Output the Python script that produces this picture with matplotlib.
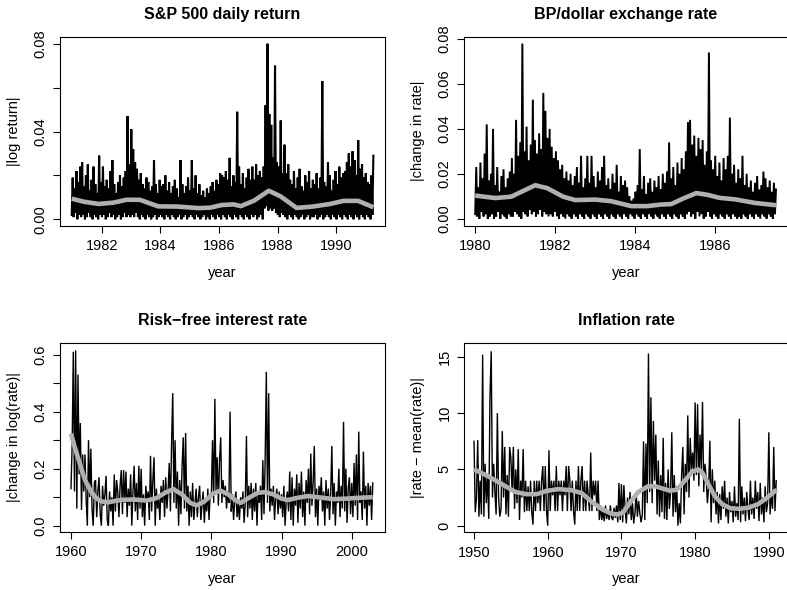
import matplotlib
matplotlib.use("Agg")
import matplotlib.pyplot as plt
import numpy as np

plt.rcParams['font.family'] = ['Liberation Sans', 'DejaVu Sans']
plt.rcParams['axes.unicode_minus'] = True

# S&P 500 |log return| in thousandths, evenly spaced in time
sp_start, sp_end = 1980.98, 1991.27
sp_abs_ret_milli = [
    2, 19, 1, 14, 3, 22, 0, 17, 2, 24, 1, 26, 2, 15, 0, 20, 1, 25, 3, 13, 1, 18, 0, 24, 2, 16, 1, 12, 0, 29, 2, 17,
    1, 24, 2, 15, 0, 18, 1, 14, 3, 22, 1, 27, 2, 16, 0, 12, 1, 17, 2, 20, 0, 15, 1, 19, 3, 22, 1, 47, 2, 25, 1, 41,
    2, 32, 1, 26, 3, 23, 1, 18, 0, 21, 2, 16, 1, 14, 0, 19, 2, 17, 1, 13, 0, 15, 1, 27, 2, 16, 0, 12, 1, 18, 2, 15,
    1, 16, 0, 20, 2, 13, 1, 17, 0, 12, 2, 15, 1, 18, 0, 14, 1, 10, 2, 27, 0, 16, 1, 12, 2, 15, 0, 19, 1, 13, 2, 27,
    1, 14, 0, 20, 2, 12, 1, 16, 0, 11, 1, 13, 2, 10, 0, 14, 1, 12, 0, 15, 2, 17, 1, 13, 0, 18, 2, 16, 1, 21, 0, 20,
    2, 19, 1, 22, 0, 18, 2, 28, 1, 15, 0, 20, 2, 17, 1, 49, 0, 24, 2, 16, 1, 21, 0, 14, 2, 19, 1, 23, 0, 18, 2, 24,
    1, 18, 2, 25, 0, 20, 1, 22, 2, 19, 0, 24, 5, 52, 6, 80, 4, 48, 5, 43, 4, 28, 5, 70, 3, 26, 2, 24, 1, 45, 3, 21,
    2, 34, 1, 21, 0, 25, 2, 18, 1, 16, 0, 22, 2, 14, 1, 19, 0, 23, 1, 15, 2, 13, 0, 20, 1, 17, 2, 22, 0, 14, 1, 18,
    1, 16, 2, 21, 0, 14, 1, 19, 2, 63, 0, 17, 1, 15, 2, 26, 1, 20, 0, 13, 2, 18, 1, 22, 0, 16, 2, 24, 1, 19, 0, 21,
    2, 22, 1, 26, 0, 30, 2, 24, 1, 31, 0, 27, 2, 20, 1, 36, 0, 23, 2, 25, 1, 19, 0, 21, 2, 17, 1, 16, 0, 20, 2, 29,
]
sp_smooth_year = [1980.98, 1981.4, 1981.9, 1982.4, 1982.85, 1983.3, 1983.93, 1984.6, 1985.3, 1985.7, 1986.1,
                  1986.5, 1986.75, 1987.2, 1987.7, 1988.1, 1988.65, 1989.2, 1989.8, 1990.25, 1990.75, 1991.27]
sp_smooth_milli = [9.4, 8.0, 7.0, 7.6, 8.9, 8.9, 5.9, 5.8, 5.1, 5.3, 6.5,
                   6.8, 6.0, 8.5, 13.0, 10.5, 5.2, 5.8, 7.0, 8.4, 8.4, 5.5]

# BP/dollar |change in rate| in thousandths
bp_start, bp_end = 1980.0, 1987.52
bp_abs_chg_milli = [
    2, 23, 1, 14, 0, 25, 3, 18, 1, 29, 2, 42, 0, 17, 1, 20, 2, 40, 0, 15, 1, 23, 3, 12, 0, 19, 2, 22, 1, 14, 0, 18, 2, 21, 1, 27,
    1, 20, 3, 44, 2, 28, 1, 34, 0, 78, 3, 30, 2, 41, 1, 26, 4, 33, 2, 53, 3, 35, 1, 29, 2, 38, 4, 31, 1, 56, 3, 48, 2, 36, 1, 40,
    2, 32, 1, 27, 3, 30, 1, 26, 0, 22, 2, 24, 1, 18, 0, 21, 2, 17, 1, 20, 0, 15, 2, 19, 1, 23, 0, 16, 2, 28, 1, 14, 0, 18, 2, 28,
    1, 16, 0, 28, 2, 19, 1, 14, 0, 21, 2, 17, 1, 23, 0, 28, 2, 15, 1, 18, 0, 13, 2, 20, 1, 16, 0, 24, 2, 12, 1, 19, 0, 15, 2, 17,
    1, 14, 0, 10, 2, 8, 1, 9, 0, 12, 2, 15, 1, 31, 0, 13, 2, 19, 1, 11, 0, 16, 2, 18, 1, 12, 0, 17, 2, 14, 1, 19, 0, 13, 2, 20,
    1, 16, 0, 21, 2, 34, 1, 18, 0, 23, 2, 15, 1, 25, 0, 20, 2, 27, 1, 22, 0, 30, 2, 43, 3, 44, 1, 33, 2, 37, 0, 28, 3, 36, 1, 31,
    2, 35, 0, 24, 1, 30, 3, 74, 1, 26, 0, 22, 2, 28, 1, 19, 0, 25, 2, 17, 1, 27, 0, 22, 2, 28, 1, 45, 0, 20, 2, 24, 1, 16, 0, 22,
    1, 18, 0, 28, 2, 15, 1, 20, 0, 14, 2, 17, 1, 12, 0, 16, 2, 19, 1, 13, 0, 15, 2, 21, 1, 18, 0, 14, 2, 17, 1, 12, 0, 16, 2, 13,
]
bp_smooth_year = [1980.0, 1980.5, 1980.9, 1981.5, 1981.8, 1982.2, 1982.5, 1983.0, 1983.4, 1983.9,
                  1984.3, 1984.65, 1984.9, 1985.2, 1985.53, 1985.82, 1986.1, 1986.5, 1987.0, 1987.52]
bp_smooth_milli = [10.3, 9.2, 9.8, 14.9, 13.6, 9.8, 8.3, 8.5, 7.8, 5.6,
                   5.6, 6.3, 6.5, 9.0, 11.4, 10.6, 9.3, 8.6, 7.0, 6.0]

# risk-free rate |change in log(rate)|, two-monthly
rf_start, rf_end = 1960.0, 2003.0
rf_abs_chg = [
    0.13, 0.28, 0.61, 0.12, 0.615, 0.06, 0.53, 0.18, 0.36, 0.055, 0.25, 0.12,
    0.25, 0.09, 0.0, 0.30, 0.10, 0.27, 0.06, 0.0, 0.15, 0.16, 0.03, 0.12,
    0.17, 0.04, 0.0, 0.14, 0.07, 0.11, 0.175, 0.02, 0.0, 0.12, 0.05, 0.10,
    0.0, 0.18, 0.05, 0.16, 0.12, 0.03, 0.14, 0.195, 0.04, 0.195, 0.08, 0.19,
    0.03, 0.13, 0.07, 0.18, 0.0, 0.12, 0.21, 0.05, 0.15, 0.02, 0.21, 0.06,
    0.20, 0.03, 0.11, 0.0, 0.14, 0.08, 0.12, 0.02, 0.245, 0.05, 0.16, 0.24,
    0.0, 0.13, 0.06, 0.10, 0.02, 0.14, 0.08, 0.16, 0.03, 0.17, 0.06, 0.12,
    0.22, 0.05, 0.29, 0.465, 0.08, 0.30, 0.06, 0.19, 0.0, 0.16, 0.04, 0.21,
    0.31, 0.06, 0.325, 0.05, 0.14, 0.0, 0.12, 0.03, 0.15, 0.02, 0.08, 0.13,
    0.03, 0.10, 0.14, 0.02, 0.07, 0.12, 0.01, 0.09, 0.05, 0.13, 0.02, 0.11,
    0.10, 0.30, 0.08, 0.445, 0.12, 0.24, 0.07, 0.23, 0.31, 0.08, 0.16, 0.10,
    0.14, 0.06, 0.12, 0.08, 0.40, 0.05, 0.11, 0.02, 0.09, 0.12, 0.03, 0.08,
    0.02, 0.10, 0.06, 0.12, 0.01, 0.08, 0.315, 0.03, 0.14, 0.06, 0.15, 0.02,
    0.13, 0.05, 0.15, 0.0, 0.12, 0.08, 0.14, 0.02, 0.23, 0.04, 0.23, 0.54,
    0.08, 0.465, 0.05, 0.13, 0.07, 0.14, 0.02, 0.10, 0.13, 0.04, 0.12, 0.06,
    0.11, 0.03, 0.14, 0.0, 0.09, 0.12, 0.05, 0.19, 0.02, 0.17, 0.0, 0.13,
    0.07, 0.18, 0.01, 0.15, 0.06, 0.19, 0.03, 0.12, 0.0, 0.16, 0.08, 0.20,
    0.04, 0.253, 0.07, 0.15, 0.28, 0.03, 0.13, 0.0, 0.14, 0.09, 0.17, 0.05,
    0.12, 0.0, 0.16, 0.06, 0.13, 0.02, 0.11, 0.28, 0.04, 0.15, 0.0, 0.12,
    0.08, 0.20, 0.03, 0.14, 0.06, 0.364, 0.05, 0.20, 0.01, 0.13, 0.17, 0.04,
    0.15, 0.03, 0.22, 0.07, 0.25, 0.02, 0.33, 0.08, 0.12, 0.02, 0.26, 0.06,
    0.14, 0.0, 0.15, 0.07, 0.14, 0.02, 0.15,
]
rf_smooth_year = [1960.0, 1960.6, 1961.3, 1962.0, 1962.9, 1963.7, 1964.4, 1965.3, 1966.5, 1967.5, 1969.0,
                  1970.8, 1972.2, 1973.5, 1974.6, 1975.8, 1977.0, 1977.9, 1979.0, 1980.2, 1981.3, 1982.4,
                  1983.5, 1984.2, 1985.5, 1986.6, 1987.6, 1988.8, 1990.0, 1990.9, 1992.3, 1993.8, 1995.5,
                  1997.4, 1999.3, 2001.2, 2003.0]
rf_smooth = [0.323, 0.27, 0.215, 0.16, 0.118, 0.094, 0.085, 0.082, 0.088, 0.091, 0.092,
             0.088, 0.097, 0.117, 0.128, 0.110, 0.080, 0.071, 0.085, 0.112, 0.123, 0.110,
             0.088, 0.080, 0.100, 0.115, 0.118, 0.110, 0.095, 0.090, 0.098, 0.104, 0.099,
             0.093, 0.095, 0.098, 0.100]

# inflation |rate - mean(rate)|, two-monthly
inf_start, inf_end = 1950.0, 1991.0
inf_abs_dev = [
    7.5, 1.2, 2.5, 7.6, 0.8, 4.0, 1.0, 15.2, 0.8, 5.5, 2.0, 4.6,
    0.6, 11.5, 15.5, 2.5, 5.5, 3.0, 1.0, 10.0, 2.5, 0.8, 1.5, 8.4,
    2.5, 7.0, 1.0, 4.5, 0.8, 7.0, 6.0, 3.0, 7.0, 1.5, 5.0, 2.0,
    6.8, 0.5, 4.0, 2.5, 6.8, 1.2, 4.0, 1.3, 3.5, 1.3, 4.0, 1.2,
    0.1, 4.0, 1.3, 4.0, 2.0, 4.0, 1.3, 4.0, 5.3, 1.3, 5.3, 1.3,
    0.0, 6.7, 1.3, 4.0, 2.7, 4.0, 1.3, 5.3, 1.3, 4.0, 2.7, 4.0,
    1.3, 4.0, 2.7, 5.3, 1.3, 5.3, 4.0, 1.3, 4.0, 1.3, 0.1, 4.0,
    1.3, 5.3, 1.3, 4.0, 5.3, 1.3, 4.0, 1.3, 4.0, 2.7, 1.3, 6.5,
    1.3, 4.0, 2.7, 4.0, 1.3, 4.0, 0.5, 1.8, 0.5, 1.3, 0.4, 1.8,
    0.6, 1.3, 0.5, 1.8, 0.7, 0.5, 1.6, 0.7, 1.8, 0.3, 3.8, 0.5,
    3.7, 0.3, 3.6, 1.5, 0.2, 2.5, 1.0, 3.0, 0.5, 2.0, 0.2, 1.1,
    3.0, 0.8, 2.2, 1.1, 0.3, 1.0, 7.5, 0.5, 7.3, 2.0, 15.3, 3.0,
    11.4, 2.0, 9.3, 4.0, 8.1, 1.0, 5.8, 0.8, 4.5, 1.2, 7.8, 0.6,
    3.8, 0.5, 5.0, 1.5, 3.0, 8.3, 0.8, 4.5, 1.2, 3.5, 0.0, 2.0,
    0.2, 4.5, 7.0, 1.0, 5.5, 3.0, 9.8, 2.5, 7.8, 5.0, 6.5, 4.0,
    10.95, 4.5, 10.8, 3.5, 8.1, 5.0, 11.0, 3.0, 5.5, 4.3, 2.0, 3.5,
    7.55, 0.3, 5.0, 2.0, 4.0, 1.0, 3.0, 0.2, 2.8, 0.5, 3.5, 1.5,
    4.0, 0.8, 2.5, 0.2, 3.0, 1.2, 2.2, 0.3, 3.5, 0.8, 2.0, 0.5,
    9.5, 0.3, 3.5, 1.0, 2.5, 0.4, 3.0, 1.5, 0.5, 4.0, 1.0, 2.5,
    0.6, 4.0, 1.5, 3.0, 0.4, 3.8, 1.0, 2.5, 0.3, 3.5, 1.2, 2.0,
    8.3, 1.0, 3.0, 1.5, 7.0, 1.3, 4.0,
]
inf_smooth_year = [1950.0, 1951.9, 1953.75, 1955.6, 1957.1, 1958.5, 1959.9, 1961.45, 1963.25, 1964.6, 1966.0,
                   1967.3, 1968.5, 1969.4, 1970.2, 1971.2, 1972.3, 1973.6, 1974.6, 1975.6, 1976.6, 1977.5,
                   1978.6, 1979.6, 1980.4, 1981.0, 1981.8, 1982.7, 1983.7, 1984.8, 1986.0, 1987.2, 1988.5,
                   1989.8, 1991.07]
inf_smooth = [5.0, 4.4, 3.7, 3.0, 2.8, 2.8, 3.1, 3.25, 3.15, 2.9, 2.1,
              1.5, 1.1, 1.0, 1.15, 2.1, 3.0, 3.5, 3.5, 3.3, 3.1, 3.2,
              4.0, 4.8, 5.0, 4.7, 3.7, 2.6, 1.9, 1.55, 1.5, 1.6, 1.9,
              2.5, 3.2]

W, H = 787, 590
fig = plt.figure(figsize=(W / 100, H / 100), dpi=100)


def px_axes(x0, y0, x1, y1):
    # axes box given in pixel coordinates measured from the top left
    return fig.add_axes([x0 / W, 1 - y1 / H, (x1 - x0) / W, (y1 - y0) / H])


def panel(ax, x, y, sx, sy, title, ylabel, xlim, ylim, xticks, yticks, yticklabels, lw):
    ax.plot(x, y, color='black', lw=lw, solid_joinstyle='miter')
    ax.plot(sx, sy, color='#b0b0b0', lw=3.3, solid_capstyle='butt')
    ax.set_xlim(xlim)
    ax.set_ylim(ylim)
    ax.set_xticks(xticks)
    ax.set_xticklabels([str(t) for t in xticks])
    ax.set_yticks(yticks)
    ax.set_yticklabels(yticklabels, rotation=90, va='center')
    ax.tick_params(direction='out', length=5, width=0.8, labelsize=10.5, color='black')
    ax.tick_params(axis='x', pad=5)
    ax.tick_params(axis='y', pad=4)
    for s in ax.spines.values():
        s.set_linewidth(0.8)
    ax.set_title(title, fontsize=11.5, fontweight='bold', pad=13)
    ax.set_xlabel('year', fontsize=10.5, labelpad=9)
    ax.set_ylabel(ylabel, fontsize=10.5, labelpad=9)


ax1 = px_axes(60.3, 37, 384.5, 225.5)
panel(ax1, np.linspace(sp_start, sp_end, len(sp_abs_ret_milli)), np.array(sp_abs_ret_milli) / 1000,
      sp_smooth_year, np.array(sp_smooth_milli) / 1000,
      'S&P 500 daily return', '|log return|', (1980.59, 1991.65), (-0.00282, 0.08305),
      [1982, 1984, 1986, 1988, 1990], [0, 0.02, 0.04, 0.06, 0.08],
      ['0.00', '', '0.04', '', '0.08'], 1.5)

ax2 = px_axes(464, 37, 788, 225.5)
panel(ax2, np.linspace(bp_start, bp_end, len(bp_abs_chg_milli)), np.array(bp_abs_chg_milli) / 1000,
      bp_smooth_year, np.array(bp_smooth_milli) / 1000,
      'BP/dollar exchange rate', '|change in rate|', (1979.72, 1987.82), (-0.00303, 0.0809),
      [1980, 1982, 1984, 1986], [0, 0.02, 0.04, 0.06, 0.08],
      ['0.00', '0.02', '0.04', '0.06', '0.08'], 1.4)

ax3 = px_axes(60.3, 342.7, 384.5, 531.5)
panel(ax3, np.linspace(rf_start, rf_end, len(rf_abs_chg)), rf_abs_chg,
      rf_smooth_year, rf_smooth,
      'Risk\u2212free interest rate', '|change in log(rate)|', (1958.48, 2004.67), (-0.0204, 0.642),
      [1960, 1970, 1980, 1990, 2000], [0, 0.1, 0.2, 0.3, 0.4, 0.5, 0.6],
      ['0.0', '', '0.2', '', '0.4', '', '0.6'], 1.0)

ax4 = px_axes(464, 342.7, 788, 532)
panel(ax4, np.linspace(inf_start, inf_end, len(inf_abs_dev)), inf_abs_dev,
      inf_smooth_year, inf_smooth,
      'Inflation rate', '|rate \u2212 mean(rate)|', (1948.64, 1992.6), (-0.56, 16.26),
      [1950, 1960, 1970, 1980, 1990], [0, 5, 10, 15],
      ['0', '5', '10', '15'], 1.0)

fig.savefig('out.png', dpi=100)
